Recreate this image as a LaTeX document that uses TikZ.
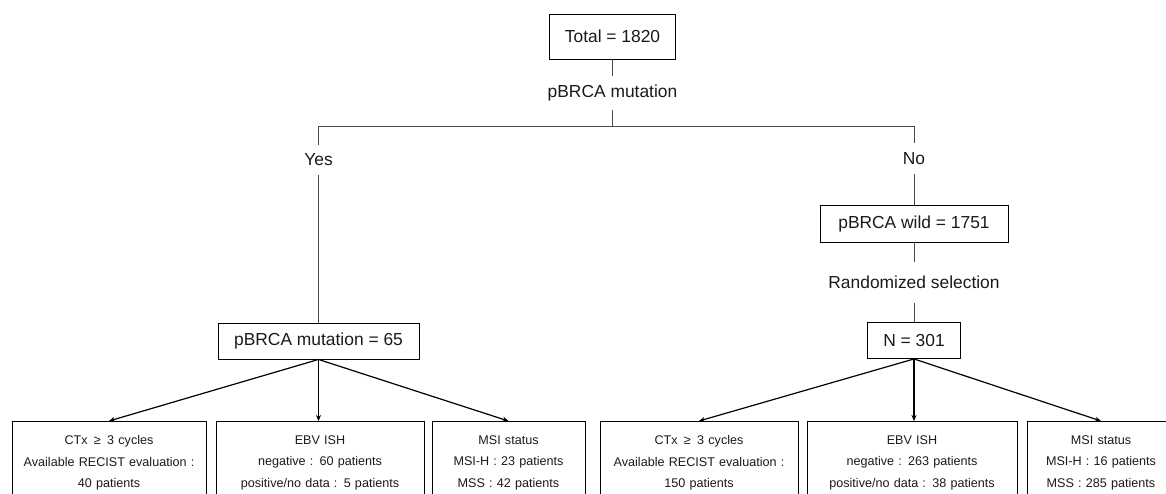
\documentclass[tikz,border=0pt]{standalone}
\usepackage{fontspec}
\setmainfont{Liberation Sans}
\usetikzlibrary{arrows.meta}
\definecolor{txt}{HTML}{1A1A1A}
\definecolor{lnc}{HTML}{4A4A4A}
\begin{document}
\begin{tikzpicture}[x=1pt,y=-1pt,
  bigbox/.style={draw=black, line width=0.9pt, inner sep=0pt, font=\fontsize{17.4}{20}\selectfont, text=txt},
  lbl/.style={inner sep=0pt, font=\fontsize{17.4}{20}\selectfont, text=txt},
  smallbox/.style={draw=black, line width=0.9pt, anchor=north, inner xsep=0pt, inner ysep=14pt, align=center, font=\fontsize{12.6}{21.5}\selectfont, text=txt},
  conn/.style={draw=lnc, line width=0.9pt},
  arr/.style={draw=black, line width=1.2pt, -{Stealth[length=6pt,width=5pt]}}
]
\useasboundingbox (0,0) rectangle (1166,493);
\begin{scope}
\clip (0,0) rectangle (1166,493);
% top part
\node[bigbox, minimum width=126pt, minimum height=45pt] (total) at (612.5,36.5) {Total = 1820};
\node[lbl, minimum height=34pt] (mutlbl) at (612.5,93) {pBRCA mutation};
\coordinate (hm) at (612.5,126);
\coordinate (hl) at (318.5,126);
\coordinate (hr) at (914,126);
\node[lbl, minimum height=30pt] (yes) at (318.5,160) {Yes};
\node[lbl, minimum height=31pt] (no) at (914,158.5) {No};
\node[bigbox, minimum width=188pt, minimum height=37pt] (wild) at (914,223.5) {pBRCA wild = 1751};
\node[lbl, minimum height=40pt] (rand) at (914,282.5) {Randomized selection};
\node[bigbox, minimum width=201pt, minimum height=36pt] (mut65) at (318.5,341) {pBRCA mutation = 65};
\node[bigbox, minimum width=93pt, minimum height=36pt] (n301) at (914,340.5) {N = 301};

\draw[conn] (total) -- (mutlbl);
\draw[conn] (mutlbl) -- (hm);
\draw[conn] (hl) -- (hr);
\draw[conn] (hl) -- (yes);
\draw[conn] (yes) -- (mut65);
\draw[conn] (hr) -- (no);
\draw[conn] (no) -- (wild);
\draw[conn] (wild) -- (rand);
\draw[conn] (rand) -- (n301);

% bottom boxes
\node[smallbox, text width=194pt] (ctxA) at (109,421) {CTx \,≥\, 3 cycles\\Available RECIST evaluation :\\40 patients};
\node[smallbox, text width=208pt] (ebvA) at (320,421) {EBV ISH\\negative : 60 patients\\positive/no data : 5 patients};
\node[smallbox, text width=153pt] (msiA) at (508.5,421) {MSI status\\MSI-H : 23 patients\\MSS : 42 patients};
\node[smallbox, text width=198pt] (ctxB) at (699,421) {CTx \,≥\, 3 cycles\\Available RECIST evaluation :\\150 patients};
\node[smallbox, text width=210pt] (ebvB) at (912,421) {EBV ISH\\negative : 263 patients\\positive/no data : 38 patients};
\node[smallbox, text width=148pt] (msiB) at (1101,421) {MSI status\\MSI-H : 16 patients\\MSS : 285 patients};

\draw[arr] (mut65.south) -- (ctxA.north);
\draw[arr] (mut65.south) -- (mut65.south |- ebvA.north);
\draw[arr] (mut65.south) -- (msiA.north);
\draw[arr] (n301.south) -- (ctxB.north);
\draw[arr] (n301.south) -- (n301.south |- ebvB.north);
\draw[arr] (n301.south) -- (msiB.north);
\end{scope}
\end{tikzpicture}
\end{document}
